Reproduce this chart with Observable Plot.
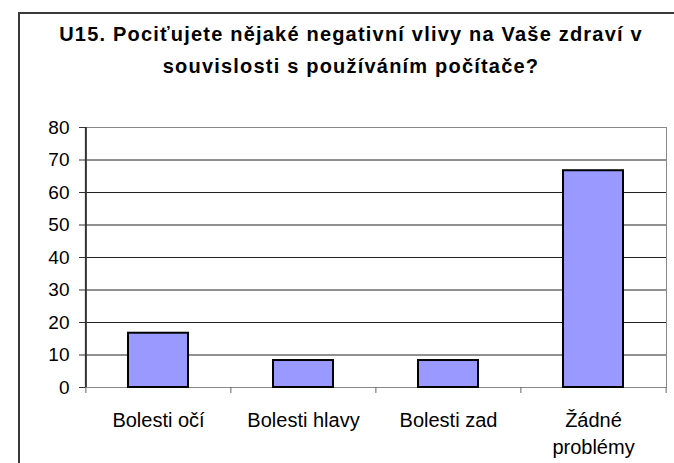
<!DOCTYPE html>
<html><head><meta charset="utf-8">
<script src="https://cdn.jsdelivr.net/npm/d3@7"></script>
<script src="https://cdn.jsdelivr.net/npm/@observablehq/plot@0.6"></script>
<style>
body{margin:0;background:#fff;font-family:"Liberation Sans",Arial,sans-serif;width:674px;height:463px;overflow:hidden;position:relative;}
#frame{position:absolute;left:18px;top:12px;width:720px;height:520px;border:2px solid #3a3a3a;box-sizing:border-box;}
#title{position:absolute;left:0;top:18px;width:702px;text-align:center;font-weight:bold;font-size:20px;letter-spacing:1.2px;line-height:32px;color:#000;}
#chart{position:absolute;left:0;top:90px;}
</style></head>
<body>
<div id="frame"></div>
<div id="title">U15. Pociťujete nějaké negativní vlivy na Vaše zdraví v<br>souvislosti s používáním počítače?</div>
<div id="chart"></div>
<script>
const categories = ["Bolesti očí", "Bolesti hlavy", "Bolesti zad", "Žádné problémy"];
const values = [16.7, 8.3, 8.3, 66.7];
const yTicks = [0, 10, 20, 30, 40, 50, 60, 70, 80];
const xLabels = {"Žádné problémy": "Žádné\nproblémy"};

const data = categories.map((c, i) => ({category: c, value: values[i]}));

const W = 674, H = 373, mL = 85, mR = 8, mT = 37, mB = 76;
const step = (W - mL - mR) / categories.length;

const chart = Plot.plot({
  width: W, height: H,
  marginLeft: mL, marginRight: mR, marginTop: mT, marginBottom: mB,
  style: {fontFamily: '"Liberation Sans", Arial, sans-serif', color: "#000", background: "transparent"},
  x: {domain: categories, paddingInner: 0.587, paddingOuter: 0.2935, label: null},
  y: {domain: [0, 80], label: null},
  marks: [
    Plot.ruleY(yTicks.filter(d => d > 0 && d < 80), {stroke: "#222", strokeWidth: 1}),
    Plot.frame({stroke: "#888", strokeWidth: 1}),
    Plot.barY(data, {x: "category", y: "value", fill: "#9999FF", stroke: "#000", strokeWidth: 2}),
    Plot.ruleX([categories[0]], {dx: -step / 2, stroke: "#333", strokeWidth: 2}),
    Plot.ruleX(categories, {dx: -step / 2, stroke: "#666", insetTop: H - mT - mB, insetBottom: -6}),
    Plot.ruleX([categories[categories.length - 1]], {dx: step / 2, stroke: "#666", insetTop: H - mT - mB, insetBottom: -6}),
    Plot.axisY({ticks: yTicks, tickSize: 6, tickPadding: 10, fontSize: 19, stroke: "#333", tickFormat: d => d}),
    Plot.axisX({tickSize: 0, tickPadding: 20, fontSize: 20, lineHeight: 1.35, tickFormat: d => xLabels[d] ?? d})
  ]
});
document.getElementById("chart").appendChild(chart);
</script>
</body></html>
